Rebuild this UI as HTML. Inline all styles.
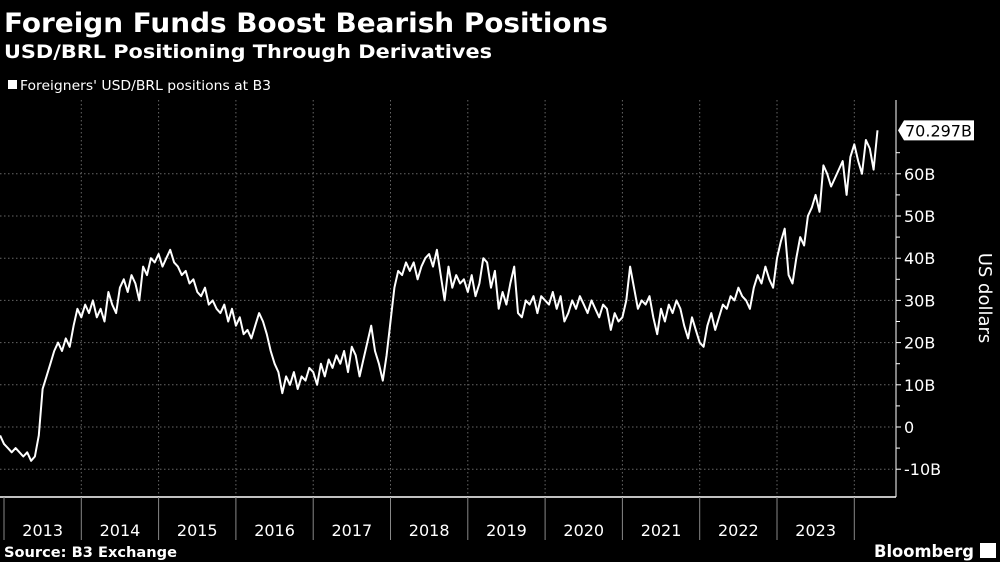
<!DOCTYPE html>
<html><head><meta charset="utf-8"><style>
html,body{margin:0;padding:0;background:#000;}
svg{display:block;font-family:"DejaVu Sans","Liberation Sans",sans-serif;}
</style></head><body>
<svg id="chart" width="1000" height="562" viewBox="0 0 1000 562">
<rect width="1000" height="562" fill="#000"/>
<text x="4" y="32" fill="#fff" font-size="27" font-weight="bold" textLength="604" lengthAdjust="spacingAndGlyphs">Foreign Funds Boost Bearish Positions</text>
<text x="4" y="58" fill="#fff" font-size="19" font-weight="bold" textLength="488" lengthAdjust="spacingAndGlyphs">USD/BRL Positioning Through Derivatives</text>
<rect x="8" y="80" width="9" height="9" fill="#fff"/>
<text x="20" y="90" fill="#fff" font-size="13" textLength="251" lengthAdjust="spacingAndGlyphs">Foreigners' USD/BRL positions at B3</text>
<g id="grid"></g>
<g id="axes"></g>
<path id="line" fill="none" stroke="#fff" stroke-width="2" stroke-linejoin="round"/>
<g id="callout"></g>
<text transform="translate(979,298) rotate(90)" text-anchor="middle" fill="#fff" font-size="18">US dollars</text>
<text x="4" y="557" fill="#fff" font-size="14" font-weight="bold" textLength="173" lengthAdjust="spacingAndGlyphs">Source: B3 Exchange</text>
<text x="974" y="557" text-anchor="end" fill="#fff" font-size="17" font-weight="bold" textLength="100" lengthAdjust="spacingAndGlyphs">Bloomberg</text>
<rect x="980" y="543" width="16" height="15" fill="#fff"/>
</svg>
<script>
const yTicks=[-10,0,10,20,30,40,50,60];
const yTickLabels=["-10B","0","10B","20B","30B","40B","50B","60B"];
const years=[2013,2014,2015,2016,2017,2018,2019,2020,2021,2022,2023];
const lastLabel="70.297B";
const startDate=2012.95;
const dateStep=0.05;
const values=[-2,
-4,-5,-6,-5,-6,-7,-6,-8,-7,-2,9,12,15,18,20,18,21,19,24,28,
26,29,27,30,26,28,25,32,29,27,33,35,32,36,34,30,38,36,40,39,
41,38,40,42,39,38,36,37,34,35,32,31,33,29,30,28,27,29,25,28,
24,26,22,23,21,24,27,25,22,18,15,13,8,12,10,13,9,12,11,14,
13,10,15,12,16,14,17,15,18,13,19,17,12,16,20,24,18,15,11,17,
25,33,37,36,39,37,39,35,38,40,41,38,42,36,30,38,33,36,34,35,
32,36,31,34,40,39,33,37,28,32,29,34,38,27,26,30,29,31,27,31,
30,29,32,28,31,25,27,30,28,31,29,27,30,28,26,29,28,23,27,25,
26,30,38,33,28,30,29,31,26,22,28,25,29,27,30,28,24,21,26,23,
20,19,24,27,23,26,29,28,31,30,33,31,30,28,33,36,34,38,35,33,
40,44,47,36,34,40,45,43,50,52,55,51,62,60,57,59,61,63,55,64,
67,63,60,68,66,61,70.3];
const X0=4,YR=77.3,Y0=427,YS=4.22,L=0,R=893,T=100,B=497;
const xs=t=>X0+(t-2013)*YR, ys=v=>Y0-v*YS;
const NS="http://www.w3.org/2000/svg";
const grid=document.getElementById('grid'),axes=document.getElementById('axes');
function mk(p,tag,a){const e=document.createElementNS(NS,tag);for(const k in a)e.setAttribute(k,a[k]);p.appendChild(e);return e;}
yTicks.forEach((v,i)=>{
 const g=mk(grid,'line',{x1:L,x2:R,y1:ys(v),y2:ys(v),stroke:'#666','stroke-dasharray':'1.5,2.5','stroke-width':1});
 
 
 mk(axes,'line',{x1:896,x2:901,y1:ys(v),y2:ys(v),stroke:'#fff'});
 mk(axes,'line',{x1:896,x2:900,y1:ys(v+5),y2:ys(v+5),stroke:'#fff'});
 const t=mk(axes,'text',{x:904,y:ys(v)+6,fill:'#fff','font-size':16});
 t.textContent=yTickLabels[i];
 
 
});
mk(axes,'line',{x1:896,x2:896,y1:T,y2:B,stroke:'#fff'});
mk(axes,'line',{x1:0,x2:896,y1:B,y2:B,stroke:'#fff','stroke-width':1.5});
years.forEach(y=>{
 const gx=xs(y);
 if(y>2013){const g=mk(grid,'line',{x1:gx,x2:gx,y1:T,y2:B,stroke:'#666','stroke-dasharray':'1.5,2.5'});
 
 }
 mk(axes,'line',{x1:gx,x2:gx,y1:B,y2:540,stroke:'#888'});
 const t=mk(axes,'text',{x:xs(y+0.5),y:536,fill:'#fff','font-size':16,'text-anchor':'middle'});
 t.textContent=String(y);
 
 
});
const gx=xs(2024);
const g2=mk(grid,'line',{x1:gx,x2:gx,y1:T,y2:B,stroke:'#666','stroke-dasharray':'1.5,2.5'});


mk(axes,'line',{x1:gx,x2:gx,y1:B,y2:540,stroke:'#888'});
let d='';values.forEach((v,i)=>{const t=startDate+i*dateStep;d+=(i?'L':'M')+xs(t).toFixed(1)+','+ys(v).toFixed(1);});
document.getElementById('line').setAttribute('d',d);
const lv=values[values.length-1],ly=ys(lv);
const c=document.getElementById('callout');
const cp=mk(c,'path',{d:`M898,${ly} L904,${ly-10} L974,${ly-10} L974,${ly+10} L904,${ly+10} Z`,fill:'#fff'});


const ct=mk(c,'text',{x:905,y:ly+6,fill:'#000','font-size':16});
ct.textContent=lastLabel;


</script>
</body></html>
